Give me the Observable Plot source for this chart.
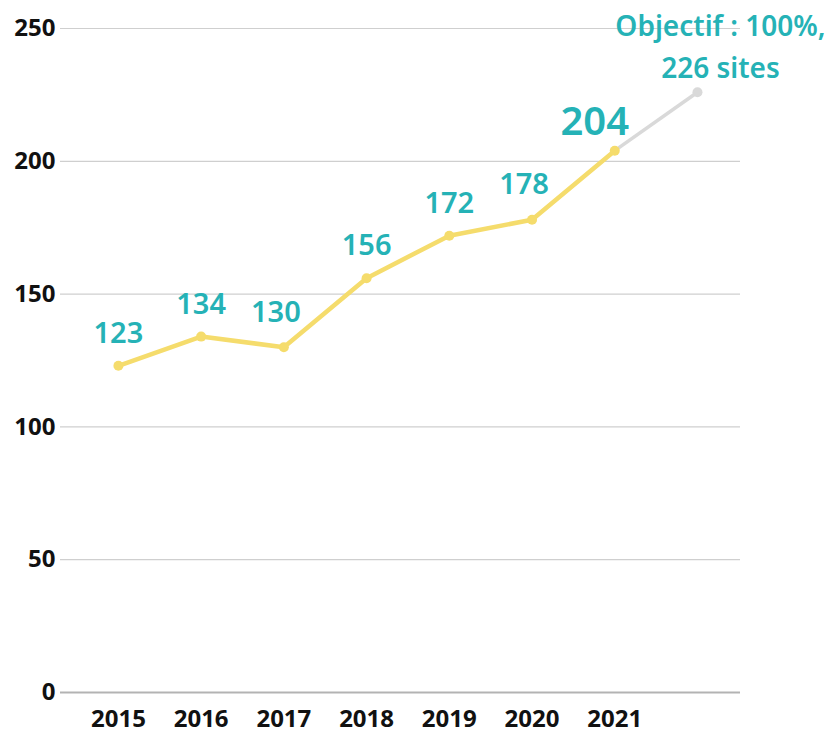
<!DOCTYPE html>
<html>
<head>
<meta charset="utf-8">
<script src="https://cdn.jsdelivr.net/npm/d3@7"></script>
<script src="https://cdn.jsdelivr.net/npm/@observablehq/plot@0.6"></script>
<style>
  html, body { margin: 0; padding: 0; background: #fff; }
  #chart svg { display: block; }
</style>
</head>
<body>
<div id="chart"></div>
<script>
const years = [2015, 2016, 2017, 2018, 2019, 2020, 2021];
const sites = [123, 134, 130, 156, 172, 178, 204];
const targetYear = 2022;
const targetValue = 226;
const targetLabel = "Objectif : 100%,\n226 sites";
const yTicks = [0, 50, 100, 150, 200, 250];

const data = years.map((y, i) => ({year: y, value: sites[i]}));
const last = data[data.length - 1];
const target = [last, {year: targetYear, value: targetValue}];

const teal = "#25b2b6";
const yellow = "#f5dc6c";
const labelFont = "'Noto Sans', sans-serif";
const tickFont = "'Open Sans', sans-serif";

const normal = data.filter(d => [2015, 2016, 2018, 2019].includes(d.year));
const shifted = data.filter(d => [2017, 2020].includes(d.year));
const highlight = data.filter(d => d.year === 2021);

const chart = Plot.plot({
  width: 831,
  height: 733,
  marginLeft: 60,
  marginRight: 91,
  marginTop: 28,
  marginBottom: 41,
  style: {fontFamily: tickFont, fontSize: "24px", fontWeight: "bold", color: "#111"},
  x: {domain: [2014.3, 2022.52], label: null},
  y: {domain: [0, 250], label: null},
  marks: [
    Plot.gridY(yTicks.filter(t => t > 0), {stroke: "#cfcfcf", strokeOpacity: 1, strokeWidth: 1.2}),
    Plot.ruleY([0], {stroke: "#b3b3b3", strokeWidth: 2}),
    Plot.axisX({ticks: years, tickFormat: d => String(d), tickSize: 0, tickPadding: 17, fontSize: 24, fontWeight: "bold", fontFamily: tickFont, fill: "#111"}),
    Plot.axisY({ticks: yTicks, tickSize: 0, tickPadding: 5, fontSize: 24, fontWeight: "bold", fontFamily: tickFont, fill: "#111", textAnchor: "end"}),
    Plot.line(target, {x: "year", y: "value", stroke: "#d9d9d9", strokeWidth: 3.5}),
    Plot.dot([target[1]], {x: "year", y: "value", r: 5, fill: "#d9d9d9"}),
    Plot.line(data, {x: "year", y: "value", stroke: yellow, strokeWidth: 4.5}),
    Plot.dot(data, {x: "year", y: "value", r: 5, fill: yellow}),
    Plot.text(normal, {x: "year", y: "value", text: d => String(d.value), dy: -32, fill: teal, fontSize: 29, fontWeight: 600, fontFamily: labelFont}),
    Plot.text(shifted, {x: "year", y: "value", text: d => String(d.value), dx: -8, dy: -35, fill: teal, fontSize: 29, fontWeight: 600, fontFamily: labelFont}),
    Plot.text(highlight, {x: "year", y: "value", text: d => String(d.value), dx: -20, dy: -28, fill: teal, fontSize: 40, fontWeight: 600, fontFamily: labelFont}),
    Plot.text([target[1]], {x: "year", y: "value", text: () => targetLabel, dx: 23, dy: -14, lineAnchor: "bottom", lineHeight: 1.5, fill: teal, fontSize: 28, fontWeight: 600, fontFamily: labelFont})
  ]
});
document.getElementById("chart").appendChild(chart);
</script>
</body>
</html>
